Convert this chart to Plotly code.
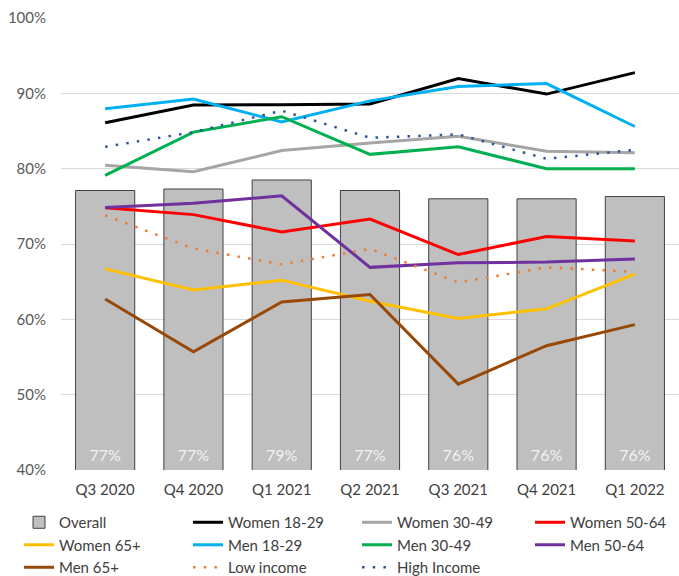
import plotly.graph_objects as go

categories = ["Q3 2020", "Q4 2020", "Q1 2021", "Q2 2021", "Q3 2021", "Q4 2021", "Q1 2022"]
overall = [77.1, 77.3, 78.5, 77.1, 76.0, 76.0, 76.3]
overall_labels = ["77%", "77%", "79%", "77%", "76%", "76%", "76%"]

women_18_29 = [86.1, 88.45, 88.5, 88.6, 91.95, 89.9, 92.75]
women_30_49 = [80.45, 79.6, 82.4, 83.4, 84.3, 82.3, 82.1]
women_50_64 = [74.8, 73.9, 71.6, 73.3, 68.6, 71.0, 70.4]
women_65 = [66.7, 63.9, 65.2, 62.4, 60.1, 61.4, 66.0]
men_18_29 = [87.95, 89.25, 86.2, 89.0, 90.9, 91.3, 85.6]
men_30_49 = [79.1, 84.85, 86.9, 81.9, 82.9, 80.0, 80.0]
men_50_64 = [74.85, 75.4, 76.4, 66.9, 67.5, 67.6, 68.0]
men_65 = [62.7, 55.7, 62.3, 63.3, 51.4, 56.5, 59.3]
low_income = [73.8, 69.4, 67.3, 69.35, 64.9, 66.9, 66.3]
high_income = [82.9, 84.85, 87.7, 84.1, 84.55, 81.3, 82.5]

y_ticks = [40, 50, 60, 70, 80, 90, 100]
y_tick_labels = ["40%", "50%", "60%", "70%", "80%", "90%", "100%"]
AXIS_MIN, AXIS_MAX = 40, 100

FONT = "Lato, 'Open Sans', sans-serif"

fig = go.Figure()
fig.add_trace(go.Bar(
    x=categories, y=overall, name="Overall",
    marker=dict(color="#bfbfbf", line=dict(color="#404040", width=1)),
    legend="legend", legendrank=1,
))

# (name, values, colour, dash, width, legend, rank)
series = [
    ("Women 18-29", women_18_29, "#000000", "solid", 3, "legend", 2),
    ("Women 30-49", women_30_49, "#a5a5a5", "solid", 3, "legend", 3),
    ("Women 50-64", women_50_64, "#ff0000", "solid", 3, "legend2", 1),
    ("Women 65+", women_65, "#ffc000", "solid", 3, "legend", 4),
    ("Men 18-29", men_18_29, "#00b0f0", "solid", 3, "legend", 5),
    ("Men 30-49", men_30_49, "#00b050", "solid", 3, "legend", 6),
    ("Men 50-64", men_50_64, "#7030a0", "solid", 3, "legend2", 2),
    ("Men 65+", men_65, "#984807", "solid", 3, "legend", 7),
    ("Low income", low_income, "#ed7d31", "2.5px,8.2px", 2.5, "legend", 8),
    ("High Income", high_income, "#2f5597", "2.5px,8.2px", 2.5, "legend", 9),
]
for name, vals, color, dash, w, leg, rank in series:
    fig.add_trace(go.Scatter(
        x=categories, y=vals, name=name, mode="lines",
        line=dict(color=color, width=w, dash=dash),
        legend=leg, legendrank=rank,
    ))

# bar value labels near the bottom of each bar
fig.add_trace(go.Scatter(
    x=categories, y=[AXIS_MIN + 1.75] * len(categories), mode="text",
    text=overall_labels, textposition="middle center",
    textfont=dict(color="#f2f2f2", size=16, family=FONT),
    showlegend=False, hoverinfo="skip",
))

legend_font = dict(size=15, color="#404040", family=FONT)
legend_top = 0.1215
fig.update_layout(
    width=679, height=576,
    margin=dict(l=61, r=0, t=18, b=106, autoexpand=False),
    plot_bgcolor="white", paper_bgcolor="white",
    font=dict(family=FONT, size=15, color="#404040"),
    bargap=0.33,
    showlegend=True,
    legend=dict(
        orientation="h", xref="container", yref="container",
        x=19 / 679, y=legend_top, xanchor="left", yanchor="top",
        entrywidth=124, entrywidthmode="pixels",
        font=legend_font, itemwidth=30, tracegroupgap=0,
        bgcolor="rgba(0,0,0,0)",
    ),
    legend2=dict(
        orientation="v", xref="container", yref="container",
        x=530 / 679, y=legend_top, xanchor="left", yanchor="top",
        font=legend_font, itemwidth=30, tracegroupgap=0,
        bgcolor="rgba(0,0,0,0)",
    ),
    xaxis=dict(
        type="category", showgrid=False, showline=False, ticks="",
        tickfont=dict(size=15, color="#404040"), ticklabelstandoff=9,
    ),
    yaxis=dict(
        range=[AXIS_MIN, AXIS_MAX], tickvals=y_ticks, ticktext=y_tick_labels,
        showgrid=True, gridcolor="#d9d9d9", gridwidth=1,
        zeroline=False, showline=False, ticks="",
        tickfont=dict(size=15, color="#595959"), ticklabelstandoff=14,
    ),
)

fig.write_html("out.html")
